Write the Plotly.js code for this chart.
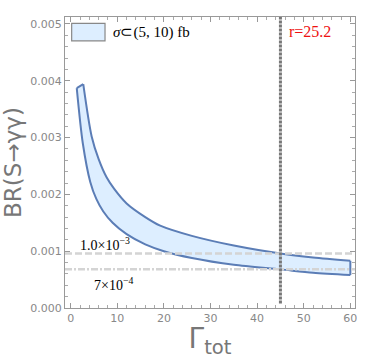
<!DOCTYPE html>
<html>
<head>
<meta charset="utf-8">
<script src="https://cdn.plot.ly/plotly-3.0.1.min.js"></script>
<style>
  html, body { margin: 0; padding: 0; background: #fff; }
  #plot { width: 374px; height: 359px; }
</style>
</head>
<body>
<div id="plot"></div>
<script>
// band edges (Gamma_tot, BR)
const lowerX = [1.3, 2.6, 4.2, 5.5, 7.0, 9.0, 12, 16, 20, 26, 35, 45, 52, 60]
const lowerY = [0.00387, 0.00290, 0.00222, 0.00192, 0.00170, 0.00150, 0.00130, 0.00112, 0.00100, 0.00088, 0.00076, 0.00068, 0.00062, 0.00058]
const upperX = [2.7, 4.5, 6.0, 7.7, 9.3, 12, 16, 19.2, 26, 35, 45, 52, 60]
const upperY = [0.00394, 0.00302, 0.00262, 0.00230, 0.00210, 0.00184, 0.00160, 0.00145, 0.00127, 0.00110, 0.00096, 0.00089, 0.00083]

const gammaLine = 45
const brRefs = [0.00096, 0.00068]
const legendLabel = '<i>σ</i>⊂(5, 10) fb'
const rLabel = 'r=25.2'
const refLabels = ['1.0×10<sup>−3</sup>', '7×10<sup>−4</sup>']

const edge = '#5b7db6'
const fill = 'rgb(221,238,255)'
const xr = [-1.22, 61]
const yr = [0, 0.005123]

const lower = {
    x: lowerX, y: lowerY, mode: 'lines', showlegend: false,
    line: { color: edge, width: 2, shape: 'spline', smoothing: 0.8 },
    hoverinfo: 'skip'
}
const upper = {
    x: upperX, y: upperY, mode: 'lines', showlegend: false,
    fill: 'tonexty', fillcolor: fill,
    line: { color: edge, width: 2, shape: 'spline', smoothing: 0.8 },
    hoverinfo: 'skip'
}
const n = lowerX.length - 1
const m = upperX.length - 1
const leftEdge = {
    x: [lowerX[0], upperX[0]], y: [lowerY[0], upperY[0]], mode: 'lines',
    showlegend: false, line: { color: edge, width: 2 }
}
const rightEdge = {
    x: [lowerX[n], upperX[m]], y: [lowerY[n], upperY[m]], mode: 'lines',
    showlegend: false, line: { color: edge, width: 2 }
}
const hRefs = brRefs.map(function (v, i) {
    return {
        x: xr, y: [v, v], mode: 'lines', showlegend: false,
        line: { color: '#d4d4d4', width: 2.5, dash: i === 0 ? '7px,3px' : '7px,2px,2px,2px' }
    }
})
const vRef = {
    x: [gammaLine, gammaLine], y: [0.00008, yr[1]], mode: 'lines', showlegend: false,
    line: { color: '#777', width: 3, dash: '3px,1px' }
}

const tickFont = { family: 'DejaVu Sans, sans-serif', size: 11, color: '#888' }
const axisCommon = {
    showline: true, linecolor: '#999', linewidth: 1, mirror: 'allticks',
    ticks: 'inside', ticklen: 5, tickcolor: '#999', showgrid: false, zeroline: false,
    tickfont: tickFont
}
const serif = 'Liberation Serif, serif'

const layout = {
    width: 374, height: 359,
    margin: { l: 65, r: 19, t: 17, b: 51 },
    paper_bgcolor: '#fff', plot_bgcolor: '#fff',
    showlegend: false,
    xaxis: Object.assign({}, axisCommon, {
        range: xr, tickvals: [0, 10, 20, 30, 40, 50, 60],
        minor: { dtick: 2, tick0: 0, ticks: 'inside', ticklen: 3, tickcolor: '#aaa' },
        title: { text: 'Γ<sub>tot</sub>', font: { family: 'DejaVu Sans, sans-serif', size: 28, color: '#777' }, standoff: 4 }
    }),
    yaxis: Object.assign({}, axisCommon, {
        range: yr, tickvals: [0, 0.001, 0.002, 0.003, 0.004, 0.005],
        ticktext: ['0.000', '0.001', '0.002', '0.003', '0.004', '0.005'],
        minor: { dtick: 0.0002, tick0: 0, ticks: 'inside', ticklen: 3, tickcolor: '#aaa' },
        title: { text: 'BR(S→γγ)', font: { family: 'DejaVu Sans, sans-serif', size: 23, color: '#777' }, standoff: 6 }
    }),
    // legend swatch drawn as a box with its label beside it
    shapes: [
        { type: 'rect', xref: 'paper', yref: 'paper', x0: 0.023, x1: 0.138, y0: 0.918, y1: 0.978,
          fillcolor: fill, line: { color: '#888', width: 1.2 } }
    ],
    annotations: [
        { x: 0.158, y: 0.948, xref: 'paper', yref: 'paper', text: legendLabel, showarrow: false,
          xanchor: 'left', yanchor: 'middle', font: { family: serif, size: 15, color: '#000' } },
        { x: 46.5, y: 0.00486, xref: 'x', yref: 'y', text: rLabel, showarrow: false, xanchor: 'left',
          font: { family: serif, size: 16, color: '#ee1111' } },
        { x: 1.5, y: 0.00112, xref: 'x', yref: 'y', text: refLabels[0], showarrow: false, xanchor: 'left',
          font: { family: serif, size: 14, color: '#000' } },
        { x: 4.6, y: 0.00043, xref: 'x', yref: 'y', text: refLabels[1], showarrow: false, xanchor: 'left',
          font: { family: serif, size: 14, color: '#000' } }
    ]
}

Plotly.newPlot('plot', [lower, upper, leftEdge, rightEdge].concat(hRefs, [vRef]), layout, { staticPlot: true })
</script>
</body>
</html>
